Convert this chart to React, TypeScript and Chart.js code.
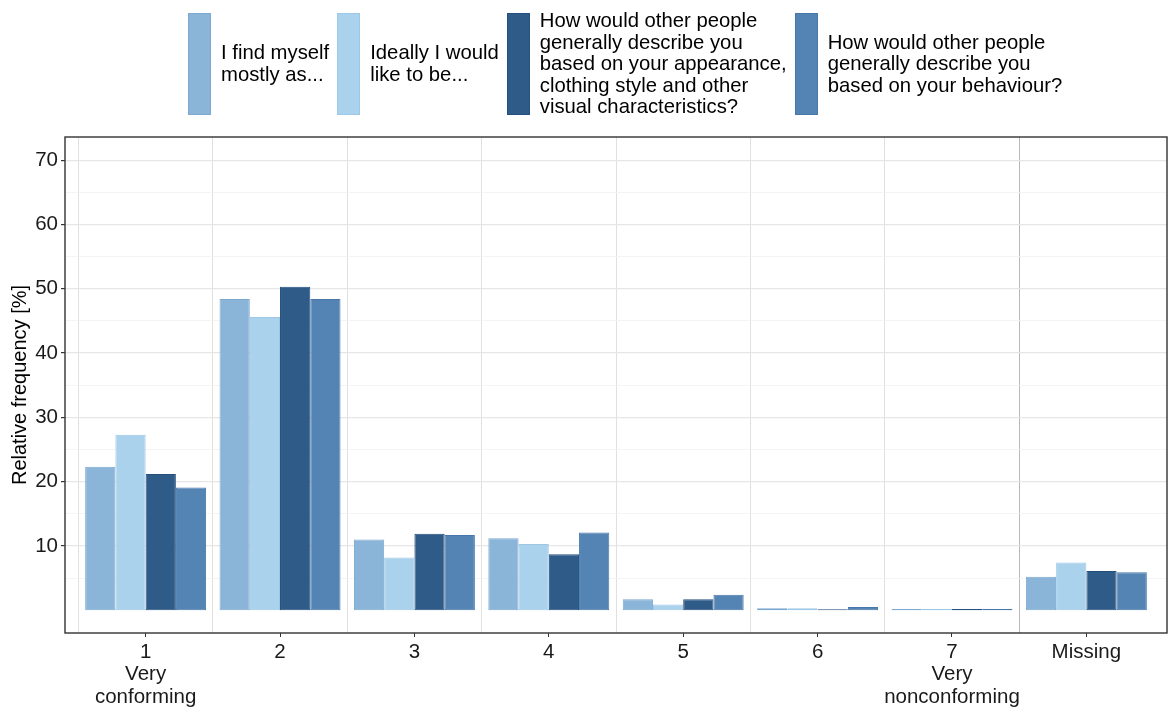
import { useEffect, useRef } from 'react';
import { Chart, registerables } from 'chart.js';

Chart.register(...registerables);

// x categories (multi-line tick labels)
const categories: string[][] = [
  ['1', 'Very', 'conforming'],
  ['2'],
  ['3'],
  ['4'],
  ['5'],
  ['6'],
  ['7', 'Very', 'nonconforming'],
  ['Missing'],
];

const seriesNames: string[][] = [
  ['I find myself', 'mostly as...'],
  ['Ideally I would', 'like to be...'],
  ['How would other people', 'generally describe you', 'based on your appearance,', 'clothing style and other', 'visual characteristics?'],
  ['How would other people', 'generally describe you', 'based on your behaviour?'],
];

const findMyself = [22.3, 48.4, 11.0, 11.2, 1.7, 0.3, 0.2, 5.2];
const ideally = [27.3, 45.6, 8.2, 10.3, 0.9, 0.3, 0.2, 7.4];
const byAppearance = [21.2, 50.3, 11.9, 8.7, 1.7, 0.15, 0.2, 6.1];
const byBehaviour = [19.1, 48.4, 11.7, 12.1, 2.4, 0.5, 0.2, 5.9];

const yTicks = [10, 20, 30, 40, 50, 60, 70];

const fills = ['#8AB4D8', '#AAD2ED', '#2E5B88', '#5484B4'];
const borders = ['#7CA9D1', '#9CC8E6', '#254F7D', '#4878AB'];

const FONT = "'Liberation Sans', Arial, sans-serif";

const frame = {
  id: 'frame',
  afterDatasetsDraw(chart: Chart) {
    const { ctx, chartArea } = chart;
    ctx.save();
    ctx.strokeStyle = '#333333';
    ctx.lineWidth = 1.4;
    ctx.strokeRect(chartArea.left, chartArea.top, chartArea.right - chartArea.left, chartArea.bottom - chartArea.top);
    ctx.restore();
  },
};

export default function App() {
  const canvasRef = useRef<HTMLCanvasElement>(null);
  const chartRef = useRef<Chart | null>(null);

  useEffect(() => {
    if (!canvasRef.current) return;
    if (chartRef.current) chartRef.current.destroy();

    const series = [findMyself, ideally, byAppearance, byBehaviour];
    // minor y grid lines halfway between the labelled ticks (plus one below)
    const yGrid = [yTicks[0] / 2, ...yTicks.flatMap((t, i) => (i < yTicks.length - 1 ? [t, (t + yTicks[i + 1]) / 2] : [t]))];
    const xCentres = categories.map((_, i) => i + 1);
    // separators between categories
    const xSeparators = [0.5, ...xCentres.map((c) => c + 0.5)].slice(0, categories.length);
    const xMin = 0.4;
    const xMax = categories.length + 0.6;

    chartRef.current = new Chart(canvasRef.current, {
      type: 'bar',
      data: {
        datasets: series.map((vals, s) => ({
          label: seriesNames[s].join(' '),
          data: vals.map((v, i) => ({ x: xCentres[i], y: v })),
          backgroundColor: fills[s],
          borderColor: borders[s],
          borderWidth: 1,
          borderSkipped: false,
          categoryPercentage: 0.9,
          barPercentage: 1,
        })),
      },
      plugins: [frame],
      options: {
        animation: false,
        responsive: true,
        maintainAspectRatio: false,
        layout: { padding: { top: 137, right: 3, left: 0, bottom: 0 } },
        plugins: {
          legend: { display: false },
          tooltip: { enabled: false },
        },
        scales: {
          x: {
            type: 'linear',
            min: xMin,
            max: xMax,
            offset: false,
            afterBuildTicks: (scale: any) => {
              scale.ticks = xCentres.map((v) => ({ value: v }));
            },
            afterFit: (scale: any) => {
              scale.height = 80;
            },
            grid: {
              offset: false,
              drawOnChartArea: false,
              drawTicks: true,
              tickLength: 4,
              tickColor: '#333333',
            },
            border: { display: false },
            ticks: {
              autoSkip: false,
              maxRotation: 0,
              padding: 4,
              color: '#1a1a1a',
              font: { family: FONT, size: 20.5, lineHeight: 1.1 },
              callback: (v: any) => categories[v - 1] ?? '',
            },
          },
          xSep: {
            type: 'linear',
            position: 'bottom',
            min: xMin,
            max: xMax,
            offset: false,
            afterBuildTicks: (scale: any) => {
              scale.ticks = xSeparators.map((v) => ({ value: v }));
            },
            afterFit: (scale: any) => {
              scale.height = 0;
            },
            grid: {
              offset: false,
              drawTicks: false,
              lineWidth: 1,
              color: (ctx: any) => (ctx.tick?.value === categories.length - 0.5 ? '#b8b8b8' : '#e0e0e0'),
            },
            border: { display: false },
            ticks: { display: false },
          },
          y: {
            min: -3.55,
            max: 73.6,
            afterBuildTicks: (scale: any) => {
              scale.ticks = yGrid.map((v) => ({ value: v }));
            },
            afterFit: (scale: any) => {
              scale.width = 65;
            },
            grid: {
              drawTicks: true,
              tickLength: 4,
              color: (ctx: any) => (yTicks.includes(ctx.tick?.value) ? '#e6e6e6' : '#f1f1f1'),
              lineWidth: (ctx: any) => (yTicks.includes(ctx.tick?.value) ? 1.2 : 0.8),
              tickColor: (ctx: any) => (yTicks.includes(ctx.tick?.value) ? '#333333' : 'rgba(0,0,0,0)'),
            },
            border: { display: false },
            ticks: {
              padding: 3,
              color: '#1a1a1a',
              font: { family: FONT, size: 20.5 },
              callback: (v: any) => (yTicks.includes(v) ? String(v) : ''),
            },
            title: {
              display: true,
              text: 'Relative frequency [%]',
              color: '#000000',
              padding: { top: 8, bottom: 0 },
              font: { family: FONT, size: 20 },
            },
          },
        },
      },
    });

    return () => {
      if (chartRef.current) {
        chartRef.current.destroy();
        chartRef.current = null;
      }
    };
  }, []);

  return (
    <div style={{ position: 'absolute', left: 0, top: 0, width: 1170, height: 713, background: '#fff' }}>
      <canvas ref={canvasRef}></canvas>
      <div
        style={{
          position: 'absolute',
          top: 10,
          left: 188,
          display: 'flex',
          alignItems: 'center',
          fontFamily: FONT,
          fontSize: 20.3,
          color: '#000',
        }}
      >
        {seriesNames.map((lines, s) => (
          <div key={s} style={{ display: 'flex', alignItems: 'center', marginRight: 8 }}>
            <div
              style={{
                width: 21,
                height: 100,
                background: fills[s],
                border: `1px solid ${borders[s]}`,
                marginRight: 10,
              }}
            />
            <div style={{ lineHeight: '21.5px', whiteSpace: 'nowrap' }}>
              {lines.map((l, i) => (
                <div key={i}>{l}</div>
              ))}
            </div>
          </div>
        ))}
      </div>
    </div>
  );
}
